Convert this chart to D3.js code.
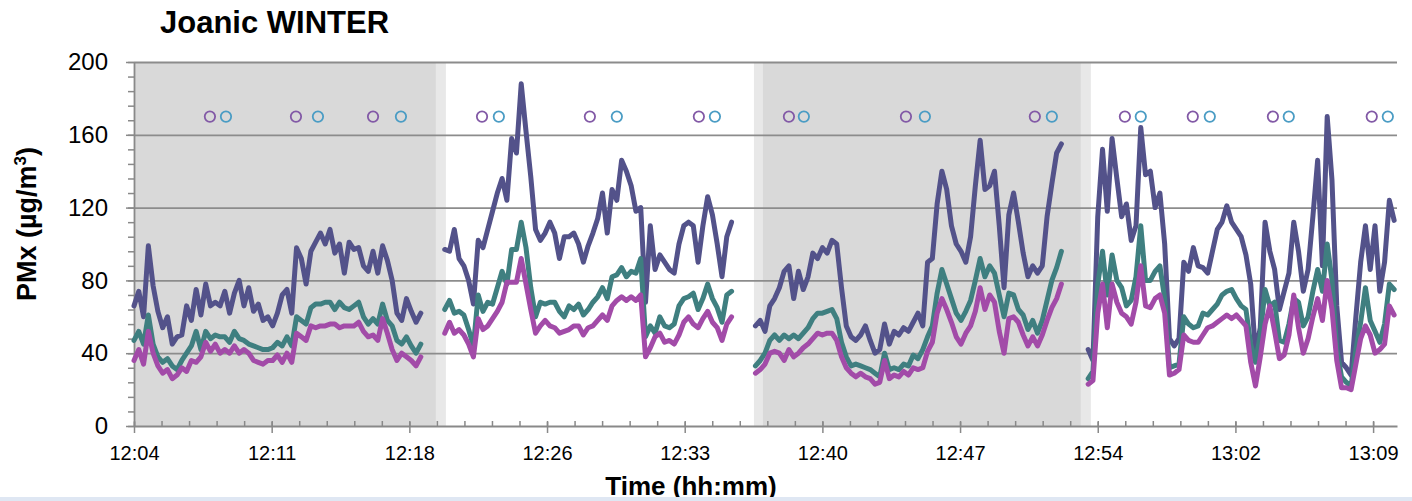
<!DOCTYPE html>
<html>
<head>
<meta charset="utf-8">
<script src="https://cdn.jsdelivr.net/npm/d3@7"></script>
<style>
  body { margin: 0; background: #fff; }
  svg { display: block; font-family: "Liberation Sans", Arial, sans-serif; }
</style>
</head>
<body>
<div id="chart"></div>
<script>
/* DATA */
// x positions are minutes after 12:04, one sample every 0.25 min inside each run
const tickLabels = ["12:04", "12:11", "12:18", "12:26", "12:33", "12:40", "12:47", "12:54", "13:02", "13:09"];
const majorStep = 7.2, minorStep = 1.44, timeMax = 66.05;
const runStarts = [0, 16.25, 32.5, 49.9];
const sampleStep = 0.25;

// PM10 (navy)
const pm10Run1 = [66,74,60,99,77,63,54,60,45,49, 50,66,58,75,61,78,66,68,66,74, 62,73,80,66,76,63,67,58,60,55,
  62,72,75,62,98,92,78,96,101,106, 100,108,95,100,84,101,97,98,88,85, 96,84,99,91,80,62,58,70,63,57, 62];
const pm10Run2 = [97,96,108,92,88,80,67,102,98,108, 118,128,136,124,158,150,188,162,137,108, 102,106,112,106,92,104,104,106,100,90,
  99,106,114,128,106,130,124,146,140,132, 118,120,68,110,86,94,90,86,84,100, 110,112,110,90,110,126,116,100,82,104, 112];
const pm10Run3 = [55,58,52,66,70,76,85,88,70,85, 75,82,95,92,98,95,102,100,76,55, 49,47,50,55,47,40,42,56,45,52,
  50,54,52,57,62,55,90,92,122,140, 130,110,100,96,90,104,132,157,130,132, 140,110,76,116,128,112,95,82,88,84, 88,115,133,150,155];
const pm10Run4 = [42,36,115,152,118,158,136,115,122,102, 110,164,138,140,120,128,100,48,44,48, 90,85,98,88,87,84,96,108,112,121,
  112,108,104,94,78,40,54,112,96,86, 64,74,84,112,96,74,86,115,146,88, 170,135,66,35,32,28,60,90,110,86, 110,74,90,124,113];

// PM2.5 (teal)
const pm25Run1 = [47,52,45,61,45,38,35,37,33,31, 36,40,44,52,42,52,48,50,49,49, 46,52,48,47,45,44,43,42,42,43,
  46,44,49,44,60,58,56,65,67,67, 68,68,64,68,65,64,66,68,60,56, 59,56,67,58,55,47,45,49,44,40, 45];
const pm25Run2 = [64,69,62,63,61,53,44,72,63,68, 67,76,85,78,97,97,112,98,76,60, 68,67,68,68,63,60,66,64,67,61,
  64,68,71,76,70,82,83,87,82,85, 84,92,49,55,51,60,55,54,56,66, 70,71,73,64,70,78,70,65,57,72, 74];
const pm25Run3 = [33,36,40,47,50,47,50,48,50,48, 51,54,59,62,62,63,64,59,46,38, 33,34,33,32,31,29,27,40,31,32,
  31,34,33,39,37,42,49,55,73,86, 78,70,62,58,63,69,80,92,82,88, 84,72,60,73,72,64,61,53,58,51, 58,69,80,87,96];
const pm25Run4 = [26,30,78,96,72,94,80,76,66,69, 82,110,80,80,85,88,70,32,33,34, 60,56,54,55,62,61,64,67,72,74,
  75,70,66,64,45,35,50,75,66,68, 47,46,56,70,68,55,60,74,86,74, 100,80,42,27,24,22,42,57,76,58, 52,46,56,78,75];

// PM1 (magenta)
const pm1Run1 = [36,42,34,52,40,33,29,31,26,28, 32,30,36,35,38,46,41,45,40,42, 40,44,40,42,40,36,35,34,36,36,
  39,35,40,35,51,49,47,55,54,55, 55,56,56,54,55,55,55,57,52,49, 50,47,59,51,42,36,40,38,36,33, 38];
const pm1Run2 = [51,57,51,53,50,45,38,59,53,55, 59,63,68,79,79,79,92,78,64,51, 55,58,55,54,51,52,53,55,55,50,
  54,55,58,61,58,66,69,71,69,71, 69,72,38,43,49,51,46,47,45,50, 57,60,56,54,59,63,57,54,47,56, 60];
const pm1Run3 = [29,31,34,40,41,40,36,42,38,40, 43,45,48,51,50,51,51,47,38,32, 29,27,29,27,26,23,24,36,26,28,
  27,30,28,32,31,32,41,46,62,70, 64,57,49,45,51,55,63,76,64,72, 68,52,40,59,60,57,50,44,49,44, 50,58,65,70,78];
const pm1Run4 = [23,25,62,78,54,78,68,62,60,56, 68,88,66,65,70,72,62,28,29,31, 50,47,46,46,50,54,55,57,59,61,
  59,61,58,55,35,22,38,56,66,52, 37,39,50,72,54,40,48,60,70,58, 80,64,36,21,21,20,34,48,55,50, 40,42,45,66,61];

// shaded periods (minutes)
const shadeFrom = [0, 15.79, 32.42, 32.89, 49.52];
const shadeTo   = [15.79, 16.31, 32.89, 49.52, 50.04];
const shadeTone = ["dark", "light", "light", "dark", "light"];

// event markers (minutes), drawn at level 170
const markerLevel = 170;
const markerA = [3.97, 8.47, 12.5, 18.2, 23.84, 29.54, 34.25, 40.37, 47.11, 51.82, 55.37, 59.56, 64.73];
const markerB = [4.81, 9.62, 13.96, 19.08, 25.25, 30.38, 35.03, 41.36, 48.0, 52.65, 56.26, 60.39, 65.57];

/* LAYOUT */
const width = 1412, height = 501;
const margin = { top: 62, bottom: 75, left: 134, right: 15 };
const axisColor = "#898989";

const svg = d3.select("#chart").append("svg")
  .attr("width", width)
  .attr("height", height);

const xScale = d3.scaleLinear()
  .domain([0, timeMax])
  .range([margin.left, width - margin.right]);
const yScale = d3.scaleLinear()
  .domain([0, 200])
  .range([height - margin.bottom, margin.top]);

const plotTop = yScale(200), plotBottom = yScale(0);

// shading
svg.append("g").selectAll("rect")
  .data(shadeFrom.map((f, i) => ({ from: f, to: shadeTo[i], tone: shadeTone[i] })))
  .join("rect")
  .attr("x", d => xScale(d.from))
  .attr("width", d => xScale(d.to) - xScale(d.from))
  .attr("y", plotTop)
  .attr("height", plotBottom - plotTop)
  .attr("fill", d => d.tone === "dark" ? "#d9d9d9" : "#e8e8e8");

// gridlines
svg.append("g")
  .attr("transform", `translate(${margin.left},0)`)
  .call(d3.axisLeft(yScale).tickValues([40, 80, 120, 160, 200])
    .tickSize(-(width - margin.right - margin.left)).tickFormat(""))
  .call(g => g.select(".domain").remove())
  .call(g => g.selectAll(".tick line").attr("stroke", "#8c8c8c").attr("stroke-width", 1.8));

// y axis: minor ticks, major ticks and labels
svg.append("g")
  .attr("transform", `translate(${margin.left},0)`)
  .call(d3.axisLeft(yScale).tickValues(d3.range(0, 201, 8)).tickSize(6).tickFormat(""))
  .call(g => g.select(".domain").remove())
  .call(g => g.selectAll(".tick line").attr("stroke", axisColor).attr("stroke-width", 1.5));

svg.append("g")
  .attr("transform", `translate(${margin.left},0)`)
  .call(d3.axisLeft(yScale).tickValues([0, 40, 80, 120, 160, 200]).tickSize(8).tickPadding(18).tickSizeOuter(0))
  .call(g => g.select(".domain").attr("stroke", axisColor).attr("stroke-width", 1.8))
  .call(g => g.selectAll(".tick line").attr("stroke", axisColor).attr("stroke-width", 1.5))
  .call(g => g.selectAll(".tick text")
    .attr("font-size", 24).attr("fill", "#000")
    .attr("font-family", "Liberation Sans, Arial, sans-serif"));

// x axis
const majorTimes = tickLabels.map((_, i) => i * majorStep);
svg.append("g")
  .attr("transform", `translate(0,${plotBottom})`)
  .call(d3.axisBottom(xScale).tickValues(d3.range(0, timeMax, minorStep)).tickSize(-5).tickFormat(""))
  .call(g => g.select(".domain").remove())
  .call(g => g.selectAll(".tick line").attr("stroke", axisColor).attr("stroke-width", 1.5));

svg.append("g")
  .attr("transform", `translate(0,${plotBottom})`)
  .call(d3.axisBottom(xScale).tickValues(majorTimes).tickSize(7).tickPadding(13).tickSizeOuter(0)
    .tickFormat((d, i) => tickLabels[i]))
  .call(g => g.select(".domain").attr("stroke", axisColor).attr("stroke-width", 1.8))
  .call(g => g.selectAll(".tick line").attr("y1", -4).attr("stroke", axisColor).attr("stroke-width", 1.5))
  .call(g => g.selectAll(".tick text")
    .attr("font-size", 20).attr("fill", "#000")
    .attr("font-family", "Liberation Sans, Arial, sans-serif"));

// series lines
const toPoints = runs => runs.map((vals, r) =>
  vals.map((v, i) => ({ t: runStarts[r] + i * sampleStep, v })));

const series = [
  { name: "PM10", color: "#53528a", runs: toPoints([pm10Run1, pm10Run2, pm10Run3, pm10Run4]) },
  { name: "PM2.5", color: "#3f7f80", runs: toPoints([pm25Run1, pm25Run2, pm25Run3, pm25Run4]) },
  { name: "PM1", color: "#a24ba8", runs: toPoints([pm1Run1, pm1Run2, pm1Run3, pm1Run4]) },
];

const lineFunc = d3.line()
  .x(d => xScale(d.t))
  .y(d => yScale(d.v));

series.forEach(s => {
  svg.append("g").selectAll("path")
    .data(s.runs)
    .join("path")
    .attr("d", lineFunc)
    .attr("fill", "none")
    .attr("stroke", s.color)
    .attr("stroke-width", 5)
    .attr("stroke-linejoin", "round")
    .attr("stroke-linecap", "round");
});

// markers
[[markerA, "#8259a6"], [markerB, "#4a9cc4"]].forEach(([times, color]) => {
  svg.append("g").selectAll("circle")
    .data(times)
    .join("circle")
    .attr("cx", d => xScale(d))
    .attr("cy", yScale(markerLevel))
    .attr("r", 5.2)
    .attr("fill", "none")
    .attr("stroke", color)
    .attr("stroke-width", 1.8);
});

// titles
svg.append("text")
  .attr("x", 160).attr("y", 33)
  .attr("font-size", 31).attr("font-weight", "bold")
  .text("Joanic WINTER");

svg.append("text")
  .attr("x", 691).attr("y", 495)
  .attr("text-anchor", "middle")
  .attr("font-size", 26).attr("font-weight", "bold")
  .text("Time (hh:mm)");

const yTitle = svg.append("text")
  .attr("transform", "translate(36,224) rotate(-90)")
  .attr("text-anchor", "middle")
  .attr("font-size", 27).attr("font-weight", "bold");
yTitle.append("tspan").text("PMx (µg/m");
yTitle.append("tspan").attr("font-size", 17).attr("dy", -10).text("3");
yTitle.append("tspan").attr("dy", 10).text(")");

// pale strip along the bottom edge
svg.append("rect")
  .attr("x", 0).attr("y", 497).attr("width", width).attr("height", 4)
  .attr("fill", "#dfe7f3");
</script>
</body>
</html>
